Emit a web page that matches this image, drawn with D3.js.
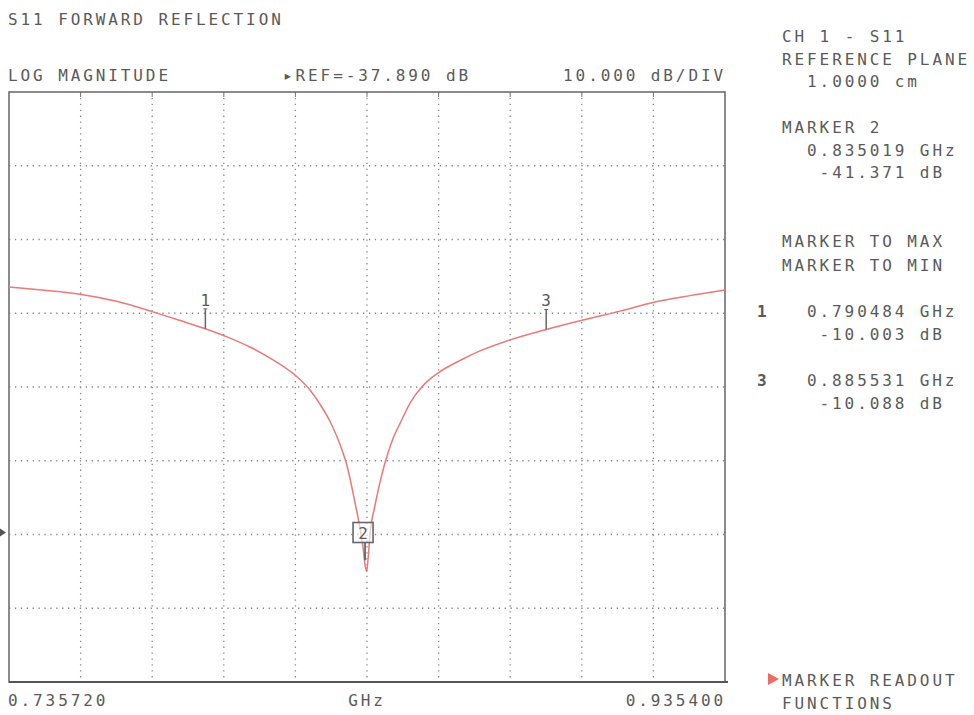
<!DOCTYPE html>
<html><head><meta charset="utf-8">
<script src="https://cdn.jsdelivr.net/npm/d3@7"></script>
<style>
html,body{margin:0;padding:0;background:#fff;}
svg text{font-family:"DejaVu Sans Mono",monospace;fill:#5a5a5a;font-size:16px;letter-spacing:2.9px;}
</style></head>
<body>
<script>
// ---- data ----
const freqGHz = [0.73572,0.74500,0.75552,0.76600,0.77588,0.78300,0.79048,0.79700,0.80303,0.80900,0.81558,0.81950,0.82255,0.82550,0.82813,0.83000,0.83148,0.83260,0.83371,0.83440,0.83502,0.83545,0.83580,0.83649,0.83760,0.83872,0.84050,0.84263,0.84500,0.84765,0.85100,0.85536,0.86150,0.86707,0.87544,0.88553,0.89580,0.90612,0.91560,0.92564,0.93540];
const s11dB   = [-4.33,-4.75,-5.30,-6.30,-7.70,-8.80,-10.00,-11.20,-12.50,-14.10,-16.30,-18.20,-20.30,-22.80,-25.80,-28.60,-31.80,-34.50,-37.30,-39.40,-42.00,-42.90,-41.50,-37.30,-34.40,-31.80,-28.30,-25.10,-22.60,-20.00,-17.80,-16.00,-14.30,-13.00,-11.50,-10.09,-8.80,-7.60,-6.40,-5.50,-4.74];
const markerIds   = ["1","2","3"];
const markerFreq  = [0.790484,0.835019,0.885531];
const markerDB    = [-10.003,-41.371,-10.088];
const freqStart = 0.735720, freqStop = 0.935400;
const refLevel = -37.890, dbPerDiv = 10, refPos = 6; // reference line 6 divisions from top
const xDivs = 10, yDivs = 8;
const headerTexts = ["LOG MAGNITUDE","\u25B8REF=-37.890 dB","10.000 dB/DIV"];
const axisLabels = ["0.735720","GHz","0.935400"];
const sideLines = ["CH 1 - S11","REFERENCE PLANE","  1.0000 cm"];
const marker2Lines = ["MARKER 2","  0.835019 GHz","   -41.371 dB"];
const funcLines = ["MARKER TO MAX","MARKER TO MIN"];
const m1Lines = ["0.790484 GHz"," -10.003 dB"];
const m3Lines = ["0.885531 GHz"," -10.088 dB"];

// ---- layout ----
const W = 974, H = 715;
const L = 9, R = 725, T = 92, B = 682;
const svg = d3.select("body").append("svg").attr("width",W).attr("height",H);

const yTop = refLevel + refPos*dbPerDiv;
const yBot = yTop - yDivs*dbPerDiv;
const x = d3.scaleLinear().domain([freqStart,freqStop]).range([L,R]);
const y = d3.scaleLinear().domain([yBot,yTop]).range([B,T]);

// grid
const g = svg.append("g");
const xTicks = d3.range(1,xDivs).map(i=>freqStart+i*(freqStop-freqStart)/xDivs);
const yTicks = d3.range(1,yDivs).map(i=>yBot+i*dbPerDiv);
g.selectAll(".vg").data(xTicks).join("line")
  .attr("x1",d=>x(d)).attr("x2",d=>x(d)).attr("y1",T).attr("y2",B)
  .attr("stroke","#888").attr("stroke-width",1.3).attr("stroke-dasharray","1.3 4.6");
g.selectAll(".hg").data(yTicks).join("line")
  .attr("y1",d=>y(d)).attr("y2",d=>y(d)).attr("x1",L).attr("x2",R)
  .attr("stroke","#888").attr("stroke-width",1.3).attr("stroke-dasharray","1.3 4.6");
g.selectAll(".tt").data(xTicks).join("line")
  .attr("x1",d=>x(d)).attr("x2",d=>x(d)).attr("y1",T).attr("y2",T+5)
  .attr("stroke","#777").attr("stroke-width",1);

// frame
svg.append("rect").attr("x",L).attr("y",T).attr("width",R-L).attr("height",B-T)
  .attr("fill","none").attr("stroke","#6f6f6f").attr("stroke-width",1.6);
svg.append("line").attr("x1",L).attr("x2",R+3).attr("y1",B).attr("y2",B)
  .attr("stroke","#555").attr("stroke-width",2);

// reference arrow
svg.append("path").attr("d",`M0,${y(refLevel)-6} L6,${y(refLevel)-2} L0,${y(refLevel)+2} Z`)
  .attr("fill","#555");

// trace
const line = d3.line().x((d,i)=>x(freqGHz[i])).y(d=>y(d)).curve(d3.curveMonotoneX);
svg.append("path").datum(s11dB).attr("d",line)
  .attr("fill","none").attr("stroke","#ea7a78").attr("stroke-width",1.5);

// markers
markerIds.forEach((id,i)=>{
  const mx = x(markerFreq[i]), my = y(markerDB[i]);
  if(id==="2"){
    const bx = mx-2, by = y(refLevel)-2;
    svg.append("line").attr("x1",mx).attr("x2",mx).attr("y1",by+10).attr("y2",my)
      .attr("stroke","#555").attr("stroke-width",1.6);
    svg.append("rect").attr("x",bx-10).attr("y",by-10).attr("width",20).attr("height",20)
      .attr("fill","#fff").attr("fill-opacity",0.6).attr("stroke","#666").attr("stroke-width",1.6);
    svg.append("text").attr("x",bx).attr("y",by+6).attr("text-anchor","middle")
      .style("letter-spacing","0px").style("font-size","16px").text(id);
  } else {
    svg.append("line").attr("x1",mx).attr("x2",mx).attr("y1",my-20).attr("y2",my)
      .attr("stroke","#666").attr("stroke-width",1.5);
    svg.append("line").attr("x1",mx-2).attr("x2",mx+2).attr("y1",my-20).attr("y2",my-20)
      .attr("stroke","#666").attr("stroke-width",1);
    svg.append("text").attr("x",mx).attr("y",my-23).attr("text-anchor","middle")
      .style("letter-spacing","0px").style("font-size","16px").text(id);
  }
});

// texts
const txt = (s,xx,yy,anchor)=>svg.append("text").attr("x",xx).attr("y",yy)
  .attr("text-anchor",anchor||"start").attr("xml:space","preserve").style("white-space","pre").text(s);
txt("S11 FORWARD REFLECTION",8,25);
txt(headerTexts[0],8,81);
txt(headerTexts[1],283,81);
txt(headerTexts[2],726,81,"end");
txt(axisLabels[0],8,706);
txt(axisLabels[1],x((freqStart+freqStop)/2),706,"middle");
txt(axisLabels[2],726,706,"end");

const rx = 782, lh = 22.5;
sideLines.forEach((s,i)=>txt(s,rx,42+i*lh));
marker2Lines.forEach((s,i)=>txt(s,rx,133+i*lh));
funcLines.forEach((s,i)=>txt(s,rx,247+i*24));
svg.append("text").attr("x",757).attr("y",317).style("font-weight","bold").text("1");
m1Lines.forEach((s,i)=>txt(s,807,317+i*lh));
svg.append("text").attr("x",757).attr("y",386).style("font-weight","bold").text("3");
m3Lines.forEach((s,i)=>txt(s,807,386+i*lh));
svg.append("path").attr("d","M768,673 L779,679 L768,685 Z").attr("fill","#ee6a62");
txt("MARKER READOUT",782,686);
txt("FUNCTIONS",782,709);
</script>
</body></html>
